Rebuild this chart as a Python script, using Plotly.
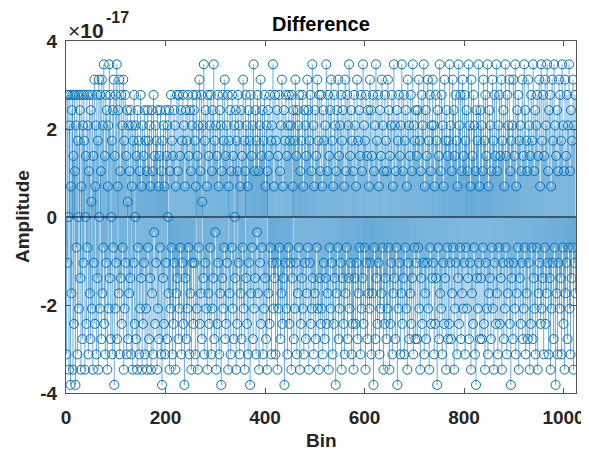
import plotly.graph_objects as go

# Difference values, in units of 2**-58
unit = 2.0 ** -58
levels = [
    -9,8,-3,8,0,-10,6,8,-11,2,-5,7,8,-10,4,-7,8,3,-11,6,-2,8,-9,5,0,-6,8,7,-4,-10,2,8,
    -8,6,-3,8,5,-10,0,4,-7,8,-2,6,-9,3,8,-5,-8,7,1,-6,8,-10,4,-3,9,-7,2,6,-9,8,-4,5,
    -10,9,0,-6,8,3,-8,9,-5,6,-2,10,-7,4,-9,8,-3,7,-10,2,6,-6,10,-4,8,-8,0,5,-9,7,-2,9,
    -11,4,-6,8,-3,10,-8,2,7,-5,9,-9,3,-4,8,-7,6,-2,9,-10,5,-6,8,-3,4,-9,7,1,-8,6,-5,3,
    -4,7,-9,2,6,-10,5,-3,8,-7,0,6,-8,4,-10,7,-2,5,-9,3,-6,8,-4,2,-10,6,-7,4,-3,7,-9,5,
    -6,3,-10,7,-2,5,-8,6,-4,2,-10,7,-5,3,-9,8,-1,4,-7,6,-3,5,-10,7,-6,2,-8,4,-2,7,-9,3,
    -11,5,-4,6,-7,2,-9,7,-3,4,-8,6,0,-5,7,-10,3,-6,8,-2,5,-9,4,-7,7,-3,6,-10,2,-5,8,-4,
    3,-8,8,-6,4,-2,7,-9,5,-3,8,-7,6,-11,2,-4,7,-8,5,-6,8,-2,4,-9,7,-5,3,-10,6,-3,8,-7,
    7,-3,5,-9,2,8,-6,4,-10,6,-2,9,-7,3,-5,8,-8,1,6,-4,10,-9,5,-3,7,-6,2,-10,8,-5,4,-7,
    6,-2,8,-9,3,-6,7,-4,10,-8,5,-1,6,-10,4,-7,8,-3,2,-9,7,-5,6,-11,3,-4,8,-6,5,-2,9,-8,
    4,-7,6,-3,8,-10,2,5,-5,7,-9,3,-2,8,-6,4,-8,6,0,-4,7,-10,5,-7,3,8,-3,6,-9,2,-5,7,
    -8,4,-2,9,-6,5,-10,3,8,-4,6,-7,2,-9,7,-3,5,-11,8,-5,4,-2,6,-8,10,-6,3,-4,7,-9,5,-1,
    8,-5,3,-10,6,-3,9,-7,4,-2,7,-9,5,-6,8,-4,2,-8,6,-10,3,7,-5,4,-7,8,-2,5,-9,6,-3,10,
    -6,2,-4,8,-9,5,-3,7,-10,4,-6,8,-2,3,-8,6,-5,9,-7,2,-4,7,-11,5,-3,8,-6,4,-9,6,-2,8,
    -7,5,-3,6,-10,8,-4,2,7,-8,5,-6,9,-3,4,-9,7,-5,6,-2,8,-10,3,-7,5,-4,8,-6,2,-9,7,-3,
    6,-8,4,-5,9,-2,7,-10,5,-3,8,-7,3,-6,10,-4,6,-9,2,-5,7,-8,4,-2,9,-6,5,-10,8,-4,3,-7,
    8,-6,2,-9,7,-3,5,-8,6,-4,10,-7,3,-5,8,-10,4,-2,7,-6,9,-3,5,-9,2,-7,8,-4,6,-11,3,-5,
    7,-2,9,-8,4,-6,6,-3,8,-10,5,-4,7,-7,2,-9,9,-5,3,-2,8,-8,6,-4,10,-6,4,-3,7,-9,5,-7,
    3,-10,8,-4,6,-7,2,-3,9,-8,5,-5,7,-2,4,-9,8,-6,3,-4,10,-7,6,-2,5,-10,8,-3,4,-8,7,-5,
    2,-6,9,-3,7,-9,4,-5,8,-11,3,-2,6,-8,10,-4,5,-7,8,-3,2,-9,7,-6,4,-5,9,-2,6,-10,3,-7,
    8,-4,5,-8,3,-6,9,-2,7,-10,4,-7,6,-3,8,-9,2,-5,10,-4,6,-8,3,-2,7,-11,5,-6,8,-3,4,-9,
    6,-5,10,-7,3,-4,8,-9,5,-2,7,-6,2,-10,9,-3,6,-8,4,-5,8,-7,3,-4,10,-9,6,-2,5,-8,7,-3,
    4,-8,7,-2,9,-6,5,-10,3,-4,8,-7,6,-3,10,-9,2,-5,7,-8,4,-3,9,-6,5,-10,8,-2,3,-7,6,-4,
    9,-3,6,-9,2,-7,8,-4,5,-11,7,-2,4,-8,10,-5,3,-6,8,-9,6,-3,2,-7,9,-4,5,-10,7,-2,4,-8,
    5,-7,10,-3,6,-8,3,-5,9,-2,7,-10,4,-6,8,-3,5,-9,2,-4,10,-7,6,-2,8,-8,3,-5,9,-6,4,-3,
    8,-9,5,-2,7,-6,3,-4,10,-8,6,-3,2,-10,9,-5,4,-7,8,-2,6,-9,3,-11,7,-4,5,-6,10,-3,2,-8,
    7,-4,6,-8,3,-2,9,-7,5,-10,8,-3,4,-6,10,-9,2,-5,7,-4,6,-8,3,-2,9,-6,5,-10,8,-3,4,-7,
    10,-5,3,-9,6,-2,8,-7,4,-4,9,-10,5,-3,7,-8,2,-6,10,-2,4,-9,8,-5,6,-3,9,-7,3,-11,5,-4,
    6,-8,9,-3,4,-6,10,-9,2,-5,7,-2,8,-10,5,-4,6,-7,3,-3,9,-8,4,-6,10,-2,7,-9,5,-5,3,-8,
    9,-3,6,-10,4,-7,8,-2,5,-8,10,-4,3,-6,7,-9,6,-2,8,-10,4,-5,9,-3,2,-7,10,-6,5,-4,8,-9,
    4,-2,9,-7,6,-5,10,-3,3,-9,7,-4,8,-10,2,-6,9,-3,5,-8,10,-2,6,-11,4,-5,7,-9,3,-3,9,-6,
    8,-4,5,-9,10,-2,6,-7,3,-10,9,-5,4,-3,8,-8,6,-2,10,-6,3,-9,7,-4,5,-2,9,-10,6,-3,8,-5,
]
bins = list(range(1, len(levels) + 1))
values = [k * unit for k in levels]

x_ticks = [0, 200, 400, 600, 800, 1000]
y_ticks = [-4, -2, 0, 2, 4]
y_ticklabels = ["-4", "-2", "0", "2", "4"]
exponent = -17

scale = 10.0 ** (-exponent)
y_plot = [v * scale for v in values]

blue = "#0072BD"
stem_x, stem_y = [], []
for b, v in zip(bins, y_plot):
    stem_x += [b, b, None]
    stem_y += [0, v, None]

fig = go.Figure()
fig.add_trace(go.Scatter(x=stem_x, y=stem_y, mode="lines",
                         line=dict(color=blue, width=0.6), hoverinfo="skip",
                         showlegend=False))
fig.add_trace(go.Scatter(x=bins, y=y_plot, mode="markers",
                         marker=dict(symbol="circle-open", size=9,
                                     color=blue, line=dict(width=1, color=blue)),
                         showlegend=False))
fig.add_trace(go.Scatter(x=[0, 1025], y=[0, 0], mode="lines",
                         line=dict(color="#000000", width=1.2), showlegend=False,
                         hoverinfo="skip"))

axis_font = dict(family="Liberation Sans", size=19, color="#262626")

# the page body adds an 8 px offset; the figure is sized so the plot area
# lands where the reference has it (66..576 x 41..393 in window pixels)
OFF = 8
W, H = 589 - OFF, 456 - OFF
L, R, T, B = 66 - OFF, 13, 41 - OFF, 63
pw, ph = W - L - R, H - T - B


def px_x(px):
    return (px - OFF - L) / pw


def px_y(py):
    return (H - B - (py - OFF)) / ph


fig.update_layout(
    width=W, height=H,
    margin=dict(l=L, r=R, t=T, b=B, autoexpand=False),
    paper_bgcolor="white", plot_bgcolor="white",
    xaxis=dict(range=[0, 1025], tickvals=x_ticks, ticktext=[f"<b>{t}</b>" for t in x_ticks],
               ticks="inside", ticklen=5, tickcolor="#555555", showline=True,
               linecolor="#555555", linewidth=1, mirror="ticks", showgrid=False,
               zeroline=False, tickfont=axis_font, automargin=False,
               ticklabelstandoff=7),
    yaxis=dict(range=[-4, 4], tickvals=y_ticks,
               ticktext=[f"<b>{t}</b>" for t in y_ticklabels],
               ticks="inside", ticklen=5, tickcolor="#555555", showline=True,
               linecolor="#555555", linewidth=1, mirror="ticks", showgrid=False,
               zeroline=False, tickfont=axis_font, automargin=False,
               ticklabelstandoff=4),
    annotations=[
        dict(text="<b>Difference</b>", xref="paper", yref="paper",
             x=0.5, y=px_y(24), xanchor="center", yanchor="middle", showarrow=False,
             font=dict(family="Liberation Sans", size=20, color="#000000")),
        dict(text="<b>Bin</b>", xref="paper", yref="paper",
             x=0.5, y=px_y(440), xanchor="center", yanchor="middle", showarrow=False,
             font=axis_font),
        dict(text="<b>Amplitude</b>", xref="paper", yref="paper", textangle=-90,
             x=px_x(22), y=0.5, xanchor="center", yanchor="middle", showarrow=False,
             font=axis_font),
        dict(text="×<b>10</b>", xref="paper", yref="paper",
             x=px_x(66), y=px_y(30), xanchor="left", yanchor="middle", showarrow=False,
             font=dict(family="Liberation Sans", size=21, color="#262626")),
        dict(text=f"<b>{exponent}</b>", xref="paper", yref="paper",
             x=px_x(104), y=px_y(18), xanchor="left", yanchor="middle", showarrow=False,
             font=dict(family="Liberation Sans", size=16, color="#262626")),
    ],
)

fig.write_html("out.html")
